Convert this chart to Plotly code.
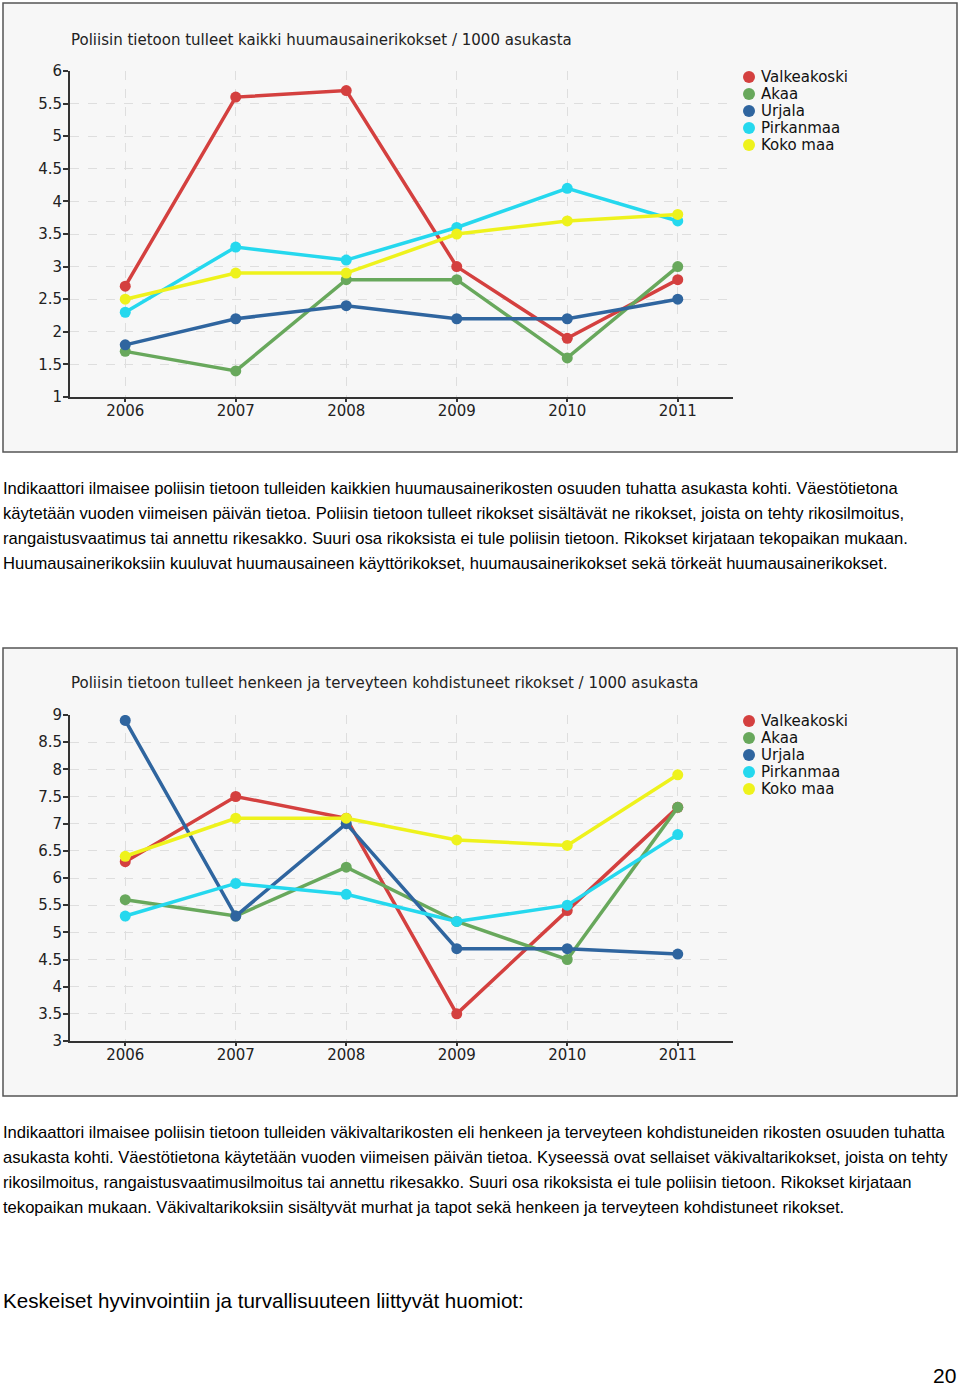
import plotly.graph_objects as go

years = ["2006", "2007", "2008", "2009", "2010", "2011"]
series_names = ["Valkeakoski", "Akaa", "Urjala", "Pirkanmaa", "Koko maa"]
colors = ["#d4403f", "#68a85c", "#2f659f", "#25d8ee", "#eef21c"]

# Chart 1: huumausainerikokset / 1000 asukasta
drugs_valkeakoski = [2.7, 5.6, 5.7, 3.0, 1.9, 2.8]
drugs_akaa = [1.7, 1.4, 2.8, 2.8, 1.6, 3.0]
drugs_urjala = [1.8, 2.2, 2.4, 2.2, 2.2, 2.5]
drugs_pirkanmaa = [2.3, 3.3, 3.1, 3.6, 4.2, 3.7]
drugs_kokomaa = [2.5, 2.9, 2.9, 3.5, 3.7, 3.8]

# Chart 2: henkeen ja terveyteen kohdistuneet rikokset / 1000 asukasta
viol_valkeakoski = [6.3, 7.5, 7.1, 3.5, 5.4, 7.3]
viol_akaa = [5.6, 5.3, 6.2, 5.2, 4.5, 7.3]
viol_urjala = [8.9, 5.3, 7.0, 4.7, 4.7, 4.6]
viol_pirkanmaa = [5.3, 5.9, 5.7, 5.2, 5.5, 6.8]
viol_kokomaa = [6.4, 7.1, 7.1, 6.7, 6.6, 7.9]

drugs_ticks = [1, 1.5, 2, 2.5, 3, 3.5, 4, 4.5, 5, 5.5, 6]
viol_ticks = [3, 3.5, 4, 4.5, 5, 5.5, 6, 6.5, 7, 7.5, 8, 8.5, 9]

title1 = "Poliisin tietoon tulleet kaikki huumausainerikokset / 1000 asukasta"
title2 = "Poliisin tietoon tulleet henkeen ja terveyteen kohdistuneet rikokset / 1000 asukasta"

para1 = [
    "Indikaattori ilmaisee poliisin tietoon tulleiden kaikkien huumausainerikosten osuuden tuhatta asukasta kohti. Väestötietona",
    "käytetään vuoden viimeisen päivän tietoa. Poliisin tietoon tulleet rikokset sisältävät ne rikokset, joista on tehty rikosilmoitus,",
    "rangaistusvaatimus tai annettu rikesakko. Suuri osa rikoksista ei tule poliisin tietoon. Rikokset kirjataan tekopaikan mukaan.",
    "Huumausainerikoksiin kuuluvat huumausaineen käyttörikokset, huumausainerikokset sekä törkeät huumausainerikokset.",
]
para2 = [
    "Indikaattori ilmaisee poliisin tietoon tulleiden väkivaltarikosten eli henkeen ja terveyteen kohdistuneiden rikosten osuuden tuhatta",
    "asukasta kohti. Väestötietona käytetään vuoden viimeisen päivän tietoa. Kyseessä ovat sellaiset väkivaltarikokset, joista on tehty",
    "rikosilmoitus, rangaistusvaatimusilmoitus tai annettu rikesakko. Suuri osa rikoksista ei tule poliisin tietoon. Rikokset kirjataan",
    "tekopaikan mukaan. Väkivaltarikoksiin sisältyvät murhat ja tapot sekä henkeen ja terveyteen kohdistuneet rikokset.",
]
heading = "Keskeiset hyvinvointiin ja turvallisuuteen liittyvät huomiot:"
page_no = "20"

W, H = 960, 1387
def px(x):
    return x / W
def py(y):
    return (H - y) / H

chart_font = "DejaVu Sans, Verdana, sans-serif"
text_font = "Liberation Sans Narrow, Arial Narrow, Liberation Sans, sans-serif"

fig = go.Figure()

drug_series = [drugs_valkeakoski, drugs_akaa, drugs_urjala, drugs_pirkanmaa, drugs_kokomaa]
viol_series = [viol_valkeakoski, viol_akaa, viol_urjala, viol_pirkanmaa, viol_kokomaa]

for name, vals, col in zip(series_names, drug_series, colors):
    fig.add_trace(go.Scatter(x=years, y=vals, mode="lines+markers", name=name,
                             line=dict(color=col, width=3.5), marker=dict(color=col, size=11),
                             xaxis="x", yaxis="y", showlegend=False))
for name, vals, col in zip(series_names, viol_series, colors):
    fig.add_trace(go.Scatter(x=years, y=vals, mode="lines+markers", name=name,
                             line=dict(color=col, width=3.5), marker=dict(color=col, size=11),
                             xaxis="x2", yaxis="y2", showlegend=False))

axis_common = dict(
    showline=True, linecolor="#333333", linewidth=2,
    ticks="outside", tickcolor="#333333", tickwidth=1.5,
    showgrid=True, gridcolor="#dedede", griddash="dash", gridwidth=1,
    zeroline=False, automargin=False,
    tickfont=dict(family=chart_font, size=15, color="#222222"),
)
x_extra = dict(ticklen=3, ticklabelstandoff=-4)
y_extra = dict(ticklen=5, ticklabelstandoff=-2)

fig.update_layout(
    template="none",
    autosize=False,
    width=W, height=H,
    margin=dict(l=0, r=0, t=0, b=0, pad=0, autoexpand=False),
    paper_bgcolor="white", plot_bgcolor="rgba(0,0,0,0)",
    xaxis=dict(domain=[px(70), px(733)], anchor="y", type="category",
               range=[-0.5, 5.5], **axis_common, **x_extra),
    yaxis=dict(domain=[py(397), py(71)], anchor="x", range=[1, 6],
               tickvals=drugs_ticks, ticktext=[f"{v:g}" for v in drugs_ticks],
               **axis_common, **y_extra),
    xaxis2=dict(domain=[px(70), px(733)], anchor="y2", type="category",
                range=[-0.5, 5.5], **axis_common, **x_extra),
    yaxis2=dict(domain=[py(1041), py(715)], anchor="x2", range=[3, 9],
                tickvals=viol_ticks, ticktext=[f"{v:g}" for v in viol_ticks],
                **axis_common, **y_extra),
    showlegend=False,
)

# chart boxes
for (y0, y1) in [(3, 452), (648, 1096)]:
    fig.add_shape(type="rect", xref="paper", yref="paper",
                  x0=px(3), x1=px(957), y0=py(y1), y1=py(y0),
                  line=dict(color="#555555", width=1.5), fillcolor="#f7f7f7", layer="below")

annotations = []
# manual legends (circle + name) for both charts
for top in (77, 721):
    for i, (name, col) in enumerate(zip(series_names, colors)):
        cy = top + 17 * i
        fig.add_shape(type="circle", xref="paper", yref="paper",
                      x0=px(743), x1=px(755), y0=py(cy + 6), y1=py(cy - 6),
                      line=dict(width=0), fillcolor=col)
        annotations.append(dict(text=name, x=px(759), y=py(cy), xref="paper", yref="paper",
                                xanchor="left", yanchor="middle", showarrow=False,
                                font=dict(family=chart_font, size=15, color="#111111")))

annotations.append(dict(text=title1, x=px(69), y=py(40), xref="paper", yref="paper",
                        xanchor="left", yanchor="middle", showarrow=False,
                        font=dict(family=chart_font, size=15, color="#222222")))
annotations.append(dict(text=title2, x=px(69), y=py(683), xref="paper", yref="paper",
                        xanchor="left", yanchor="middle", showarrow=False,
                        font=dict(family=chart_font, size=15, color="#222222")))
for i, line in enumerate(para1):
    annotations.append(dict(text=line, x=px(1), y=py(488 + 25 * i), xref="paper", yref="paper",
                            xanchor="left", yanchor="middle", showarrow=False,
                            font=dict(family=text_font, size=16.6, color="#000000")))
for i, line in enumerate(para2):
    annotations.append(dict(text=line, x=px(1), y=py(1132 + 25 * i), xref="paper", yref="paper",
                            xanchor="left", yanchor="middle", showarrow=False,
                            font=dict(family=text_font, size=16.6, color="#000000")))
annotations.append(dict(text=heading, x=px(1), y=py(1300), xref="paper", yref="paper",
                        xanchor="left", yanchor="middle", showarrow=False,
                        font=dict(family=text_font, size=20.6, color="#000000")))
annotations.append(dict(text=page_no, x=px(958), y=py(1375), xref="paper", yref="paper",
                        xanchor="right", yanchor="middle", showarrow=False,
                        font=dict(family=text_font, size=21, color="#000000")))
fig.update_layout(annotations=annotations)

fig.write_html(
    "out.html",
    config={"displayModeBar": False},
    post_script="document.body.style.margin='0';document.body.style.padding='0';"
                "document.body.style.overflow='hidden';"
                "document.documentElement.style.overflow='hidden';"
                "var d=document.getElementById('{plot_id}');"
                "d.style.position='absolute';d.style.top='0px';d.style.left='0px';",
)
